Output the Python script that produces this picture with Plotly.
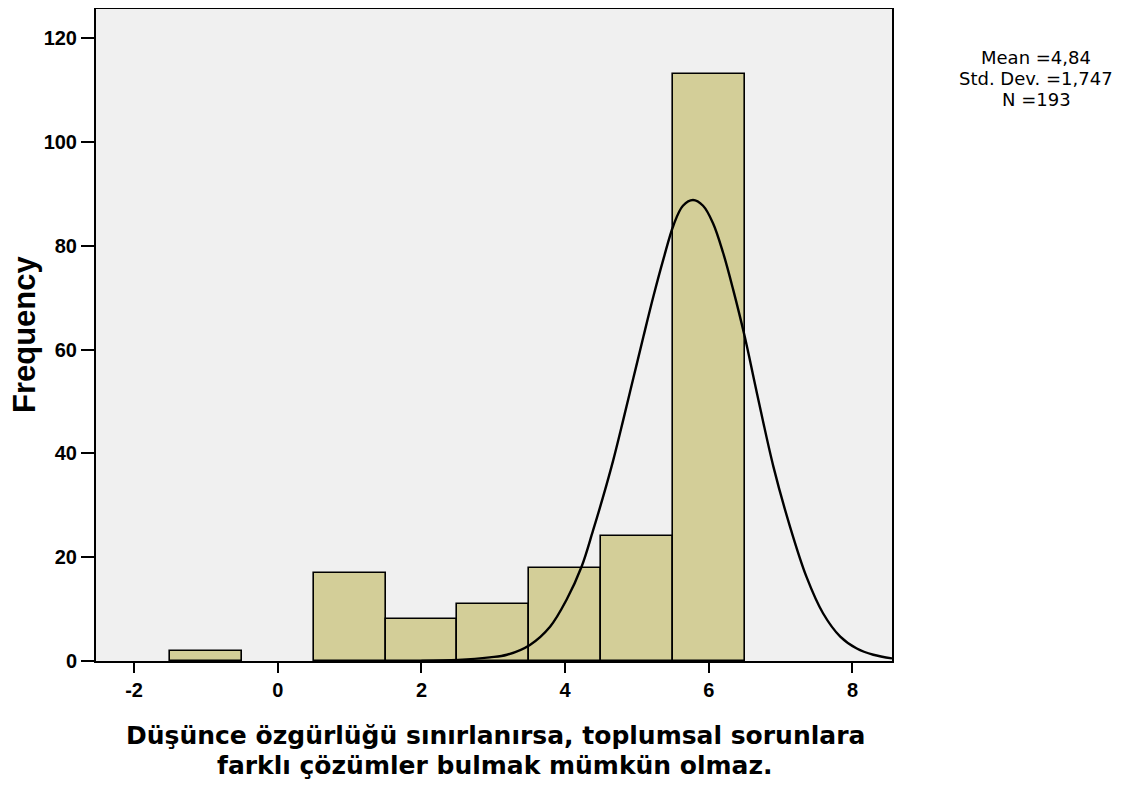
import plotly.graph_objects as go

# Histogram bins (centers) and frequencies
bin_centers = [-1, 1, 2, 3, 4, 5, 6]
frequencies = [2, 17, 8, 11, 18, 24, 113]

# Fitted curve
curve_x = [2.0, 2.51, 2.95, 3.19, 3.51, 3.79, 4.02, 4.23, 4.39, 4.53, 4.67, 4.81, 4.95,
           5.09, 5.23, 5.37, 5.51, 5.64, 5.78, 5.92, 6.06, 6.20, 6.34, 6.50, 6.67,
           6.90, 7.13, 7.36, 7.59, 7.83, 8.06, 8.29, 8.55]
curve_y = [0.0, 0.2, 0.7, 1.2, 3.1, 6.6, 11.8, 18.2, 25.2, 31.7, 38.7, 46.5, 54.5,
           62.5, 70.3, 77.5, 84.0, 87.7, 88.8, 87.7, 84.3, 78.6, 71.5, 62.5, 51.6,
           37.4, 25.9, 16.2, 9.2, 4.7, 2.4, 1.2, 0.5]

x_ticks = [-2, 0, 2, 4, 6, 8]
y_ticks = [0, 20, 40, 60, 80, 100, 120]

stats_lines = ["Mean =4,84", "Std. Dev. =1,747", "N =193"]
x_title_lines = ["Düşünce özgürlüğü sınırlanırsa, toplumsal sorunlara",
                 "farklı çözümler bulmak mümkün olmaz."]
y_title = "Frequency"

FONT = "Liberation Sans, Arial, sans-serif"
WIDE = "DejaVu Sans, Liberation Sans, sans-serif"
W, H = 1120, 778
ML, MR, MT, MB = 88, 236, 1, 125
PW, PH = W - ML - MR, H - MT - MB
OFF = 8  # page offset of the figure


def px(xp):
    return (xp - OFF - ML) / PW


def py(yp):
    return (H - MB - (yp - OFF)) / PH


fig = go.Figure()
fig.add_trace(go.Bar(
    x=bin_centers, y=frequencies, width=1,
    marker=dict(color="#d3ce98", line=dict(color="black", width=1.6)),
    showlegend=False,
))
fig.add_trace(go.Scatter(
    x=curve_x, y=curve_y, mode="lines",
    line=dict(color="black", width=2.4, shape="spline", smoothing=1.0),
    showlegend=False,
))

fig.update_layout(
    width=W, height=H,
    margin=dict(l=ML, r=MR, t=MT, b=MB, autoexpand=False),
    paper_bgcolor="white", plot_bgcolor="#f0f0f0",
    font=dict(family=FONT, color="black"),
    bargap=0,
)
fig.update_xaxes(
    range=[-2.53, 8.55], tickvals=x_ticks, ticktext=[f"<b>{v}</b>" for v in x_ticks],
    ticks="outside", ticklen=10, tickwidth=2, tickcolor="black",
    tickfont=dict(size=20), showgrid=False, zeroline=False,
    showline=True, linecolor="black", linewidth=2, mirror=True,
)
fig.update_yaxes(
    range=[0, 125.6], tickvals=y_ticks, ticktext=[f"<b>{v}</b>" for v in y_ticks],
    ticks="outside", ticklen=13, tickwidth=2, tickcolor="black",
    tickfont=dict(size=20), showgrid=False, zeroline=False,
    showline=True, linecolor="black", linewidth=2, mirror=True,
)

for txt, yy in zip(stats_lines, [57, 78, 100]):
    fig.add_annotation(x=px(1036), y=py(yy), xref="paper", yref="paper",
                       text=txt, showarrow=False, font=dict(size=18, family=WIDE),
                       xanchor="center", yanchor="middle")

for txt, yy in zip(x_title_lines, [736, 765]):
    fig.add_annotation(x=px(495), y=py(yy), xref="paper", yref="paper",
                       text=f"<b>{txt}</b>", showarrow=False, font=dict(size=25, family=WIDE),
                       xanchor="center", yanchor="middle")

fig.add_annotation(x=px(24), y=py(334), xref="paper", yref="paper",
                   text=f"<b>{y_title}</b>", showarrow=False, font=dict(size=31),
                   textangle=-90, xanchor="center", yanchor="middle")

fig.write_html("out.html")
